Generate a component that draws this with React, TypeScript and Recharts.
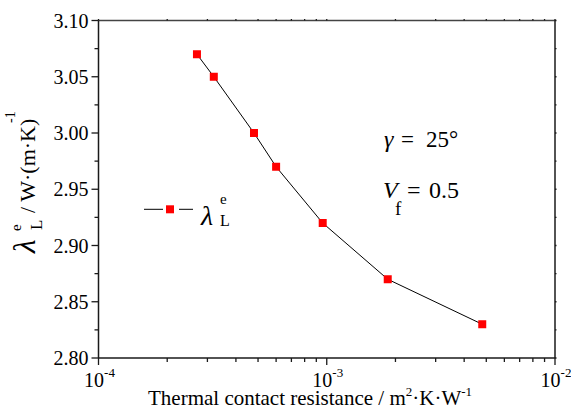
import React from "react";
import { LineChart, Line, XAxis, YAxis } from "recharts";

const resistance = [2.7e-4, 3.2e-4, 4.8e-4, 6.0e-4, 9.6e-4, 1.85e-3, 4.8e-3];
const conductivity = [3.07, 3.05, 3.0, 2.97, 2.92, 2.87, 2.83];
const xTicks = [
  1e-4, 2e-4, 3e-4, 4e-4, 5e-4, 6e-4, 7e-4, 8e-4, 9e-4,
  1e-3, 2e-3, 3e-3, 4e-3, 5e-3, 6e-3, 7e-3, 8e-3, 9e-3, 1e-2,
];
const yTicks = [2.8, 2.825, 2.85, 2.875, 2.9, 2.925, 2.95, 2.975, 3.0, 3.025, 3.05, 3.075, 3.1];

const data = resistance.map((r, i) => ({ r, k: conductivity[i] }));

const FONT = '"Liberation Serif", "Times New Roman", serif';
const AX = "#1a1a1a";

const isMajorX = (v: number) => {
  const l = Math.log10(v);
  return Math.abs(l - Math.round(l)) < 1e-6;
};
const isMajorY = (v: number) => Math.round(v * 1000) % 50 === 0;

const BottomTick = (props: any) => {
  const { x, y, payload } = props;
  const v = payload.value;
  const major = isMajorX(v);
  const e = Math.round(Math.log10(v));
  return (
    <g>
      <line x1={x} y1={y} x2={x} y2={y + (major ? 7 : 4)} stroke={AX} strokeWidth={1.3} />
      {major && (
        <text x={x + 1} y={y + 28.5} textAnchor="middle" fontFamily={FONT} fontSize={20} fill="#000">
          <tspan>10</tspan>
          <tspan dy={-10} fontSize={13}>{`${e}`}</tspan>
        </text>
      )}
    </g>
  );
};

const TopTick = (props: any) => {
  const { x, y } = props;
  return <line x1={x} y1={y} x2={x} y2={y - 1.5} stroke={AX} strokeWidth={1.3} />;
};

const LeftTick = (props: any) => {
  const { x, y, payload } = props;
  const v = payload.value;
  const major = isMajorY(v);
  return (
    <g>
      <line x1={x} y1={y} x2={x - (major ? 7 : 4)} y2={y} stroke={AX} strokeWidth={1.3} />
      {major && (
        <text x={x - 10} y={y + 7} textAnchor="end" fontFamily={FONT} fontSize={20} fill="#000">
          {v.toFixed(2)}
        </text>
      )}
    </g>
  );
};

const RightTick = (props: any) => {
  const { x, y } = props;
  return <line x1={x} y1={y} x2={x + 1.5} y2={y} stroke={AX} strokeWidth={1.3} />;
};

const SquareDot = (props: any) => {
  const { cx, cy } = props;
  if (cx == null || cy == null) return null;
  return <rect x={cx - 4} y={cy - 4} width={8} height={8} fill="#FF0000" />;
};

const T = (p: any) => <text fontFamily={FONT} fill="#000" {...p} />;

export default function App() {
  return (
    <div style={{ position: "absolute", left: 0, top: 0, width: 571, height: 412, background: "#fff" }}>
      <LineChart
        width={571}
        height={412}
        data={data}
        margin={{ top: 19.5, left: 97.5, right: 15, bottom: 53 }}
      >
        <XAxis
          dataKey="r"
          type="number"
          scale="log"
          domain={[1e-4, 1e-2]}
          allowDataOverflow
          ticks={xTicks}
          interval={0}
          height={1}
          tickSize={0}
          tickMargin={0}
          tickLine={false}
          tick={<BottomTick />}
          axisLine={{ stroke: AX, strokeWidth: 1.5 }}
        />
        <XAxis
          xAxisId="top"
          orientation="top"
          dataKey="r"
          type="number"
          scale="log"
          domain={[1e-4, 1e-2]}
          allowDataOverflow
          ticks={xTicks}
          interval={0}
          height={1}
          tickSize={0}
          tickMargin={0}
          tickLine={false}
          tick={<TopTick />}
          axisLine={{ stroke: "#444", strokeWidth: 1.5 }}
        />
        <YAxis
          type="number"
          domain={[2.8, 3.1]}
          allowDataOverflow
          ticks={yTicks}
          interval={0}
          width={1}
          tickSize={0}
          tickMargin={0}
          tickLine={false}
          tick={<LeftTick />}
          axisLine={{ stroke: AX, strokeWidth: 1.5 }}
        />
        <YAxis
          yAxisId="right"
          orientation="right"
          type="number"
          domain={[2.8, 3.1]}
          allowDataOverflow
          ticks={yTicks}
          interval={0}
          width={1}
          tickSize={0}
          tickMargin={0}
          tickLine={false}
          tick={<RightTick />}
          axisLine={{ stroke: AX, strokeWidth: 1.5 }}
        />
        <Line
          dataKey="k"
          stroke="#000"
          strokeWidth={1}
          dot={<SquareDot />}
          activeDot={false}
          isAnimationActive={false}
        />

        {/* X axis title */}
        <T x={148} y={405} fontSize={21}>
          <tspan>Thermal contact resistance / m</tspan>
          <tspan dy={-9} fontSize={13}>2</tspan>
          <tspan dy={9}>·K·W</tspan>
          <tspan dy={-9} fontSize={13}>-1</tspan>
        </T>

        {/* Y axis title */}
        <g transform="translate(35,253) rotate(-90)">
          <T x={0} y={0} fontSize={31} fontStyle="italic">λ</T>
          <T x={23} y={7} fontSize={17}>L</T>
          <T x={22} y={-14} fontSize={15}>e</T>
          <T x={40} y={0} fontSize={22}>/ W·(m·K)</T>
          <T x={130} y={-20} fontSize={14}>-1</T>
        </g>

        {/* Legend */}
        <g>
          <line x1={144} y1={209.3} x2={163} y2={209.3} stroke="#000" strokeWidth={1} />
          <rect x={166} y={205.3} width={8} height={8} fill="#FF0000" />
          <line x1={179} y1={209.3} x2={193} y2={209.3} stroke="#000" strokeWidth={1} />
          <T x={201} y={225} fontSize={28} fontStyle="italic">λ</T>
          <T x={220} y={226} fontSize={16}>L</T>
          <T x={220} y={204} fontSize={15}>e</T>
        </g>

        {/* Annotations */}
        <T x={384} y={146.5} fontSize={24} fontStyle="italic">γ</T>
        <T x={401} y={146.5} fontSize={23}>=</T>
        <T x={426} y={146.5} fontSize={23}>25°</T>
        <T x={383} y={198} fontSize={24} fontStyle="italic">V</T>
        <T x={395} y={215} fontSize={19}>f</T>
        <T x={407} y={198} fontSize={24}>=</T>
        <T x={429} y={198} fontSize={24}>0.5</T>
      </LineChart>
    </div>
  );
}
